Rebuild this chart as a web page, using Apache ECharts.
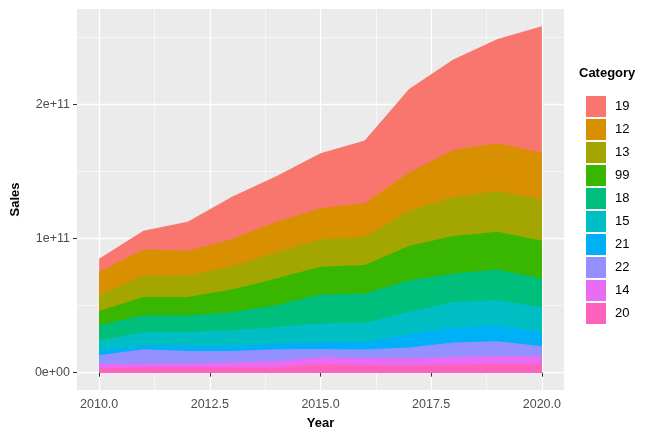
<!DOCTYPE html>
<html><head><meta charset="utf-8">
<script src="https://cdn.jsdelivr.net/npm/echarts@6/dist/echarts.min.js"></script>
</head>
<body style="margin:0;background:#fff">
<div id="c" style="width:645px;height:439px"></div>
<script>
// ---- data (sales in billions) ----
const years = [2010, 2011, 2012, 2013, 2014, 2015, 2016, 2017, 2018, 2019, 2020];
const stackOrder = ['20', '14', '22', '21', '15', '18', '99', '13', '12', '19']; // bottom -> top
const legendOrder = ['19', '12', '13', '99', '18', '15', '21', '22', '14', '20'];
const sales20 = [3.4, 4.0, 4.0, 4.0, 4.2, 6.7, 5.7, 5.4, 6.0, 6.7, 6.7];
const sales14 = [3.0, 2.7, 2.9, 3.5, 4.5, 4.7, 5.2, 5.5, 5.6, 5.7, 5.7];
const sales22 = [6.5, 10.7, 9.2, 8.6, 8.7, 6.2, 6.3, 7.8, 10.8, 11.0, 7.2];
const sales21 = [3.7, 3.0, 3.8, 3.8, 4.2, 5.2, 5.6, 9.7, 11.2, 11.7, 10.7];
const sales15 = [7.0, 9.9, 10.4, 11.7, 12.4, 13.8, 14.2, 16.8, 19.1, 18.9, 18.2];
const sales18 = [11.7, 12.5, 12.5, 13.6, 16.2, 21.8, 22.0, 23.7, 21.2, 22.9, 21.6];
const sales99 = [10.7, 13.6, 13.6, 16.7, 19.9, 20.4, 21.1, 25.4, 27.8, 28.0, 28.1];
const sales13 = [11.9, 15.7, 16.0, 17.4, 19.5, 20.5, 21.1, 26.3, 28.9, 30.4, 30.9];
const sales12 = [17.2, 19.7, 18.3, 20.0, 22.8, 23.1, 24.9, 28.4, 35.3, 35.6, 34.8];
const sales19 = [9.7, 13.9, 21.7, 31.7, 33.9, 41.0, 46.7, 62.2, 67.2, 77.6, 94.0];
const xTicks = [2010, 2012.5, 2015, 2017.5, 2020];
const xMinor = [2011.25, 2013.75, 2016.25, 2018.75];
const yTicks = [0, 1e11, 2e11];
const yTickLabels = ['0e+00', '1e+11', '2e+11'];
const yMinor = [0.5e11, 1.5e11, 2.5e11];

const salesByCat = { '20': sales20, '14': sales14, '22': sales22, '21': sales21, '15': sales15,
  '18': sales18, '99': sales99, '13': sales13, '12': sales12, '19': sales19 };
const colors = { '19': '#F8766D', '12': '#D89000', '13': '#A3A500', '99': '#39B600', '18': '#00BF7D',
  '15': '#00BFC4', '21': '#00B0F6', '22': '#9590FF', '14': '#E76BF3', '20': '#FF62BC' };

// stack: cumulative top of each layer (bottom -> top)
const cumulative = {};
let running = years.map(() => 0);
stackOrder.forEach(cat => {
  running = running.map((v, i) => v + salesByCat[cat][i] * 1e9);
  cumulative[cat] = running.slice();
});
const yMaxData = Math.max(...running);
const yMin = -0.05 * yMaxData, yMax = 1.05 * yMaxData;

// draw top layer first, each filled down to zero, so lower layers paint over
const series = stackOrder.slice().reverse().map(cat => ({
  name: cat, type: 'line',
  symbol: 'none',
  lineStyle: { width: 0, color: colors[cat] },
  itemStyle: { color: colors[cat] },
  areaStyle: { color: colors[cat], opacity: 1 },
  data: years.map((y, i) => [y, cumulative[cat][i]])
}));

const chart = echarts.init(document.getElementById('c'), null, { renderer: 'canvas' });
const font = 'Liberation Sans, Arial, sans-serif';
const nameStyle = { fontWeight: 'bold', fontSize: 13, color: '#000', fontFamily: font };
const tickStyle = { show: true, length: 4, lineStyle: { color: '#333333', width: 1 } };
chart.setOption({
  animation: false,
  textStyle: { fontFamily: font },
  grid: { left: 77, right: 81, top: 9, bottom: 49, show: true, backgroundColor: '#EBEBEB', borderWidth: 0 },
  xAxis: [{
    type: 'value', min: 2009.5, max: 2020.5,
    name: 'Year', nameLocation: 'middle', nameGap: 27, nameTextStyle: nameStyle,
    axisLine: { show: false },
    axisTick: Object.assign({ customValues: xTicks }, tickStyle),
    axisLabel: { customValues: xTicks, margin: 8, fontSize: 12.5, color: '#4D4D4D', fontFamily: font,
      formatter: v => Number(v).toFixed(1) },
    splitLine: { show: true, lineStyle: { color: '#FFFFFF', width: 1.3 } }
  }, {
    type: 'value', min: 2009.5, max: 2020.5, position: 'bottom',
    axisLine: { show: false },
    axisTick: { show: false, customValues: xMinor },
    axisLabel: { show: false, customValues: xMinor },
    splitLine: { show: true, lineStyle: { color: '#FFFFFF', width: 0.6 } }
  }],
  yAxis: [{
    type: 'value', min: yMin, max: yMax,
    name: 'Sales', nameLocation: 'middle', nameGap: 55, nameTextStyle: nameStyle,
    axisLine: { show: false },
    axisTick: Object.assign({ customValues: yTicks }, tickStyle),
    axisLabel: { customValues: yTicks, margin: 7, fontSize: 12.5, color: '#4D4D4D', fontFamily: font,
      formatter: v => yTickLabels[yTicks.indexOf(v)] },
    splitLine: { show: true, lineStyle: { color: '#FFFFFF', width: 1.3 } }
  }, {
    type: 'value', min: yMin, max: yMax, position: 'left',
    axisLine: { show: false },
    axisTick: { show: false, customValues: yMinor },
    axisLabel: { show: false, customValues: yMinor },
    splitLine: { show: true, lineStyle: { color: '#FFFFFF', width: 0.6 } }
  }],
  legend: {
    orient: 'vertical', left: 586, top: 96, padding: 0,
    data: legendOrder, icon: 'rect', itemWidth: 20, itemHeight: 21, itemGap: 2,
    textStyle: { fontSize: 13, color: '#000', fontFamily: font, padding: [0, 0, 0, 4] },
    selectedMode: false
  },
  graphic: [{
    type: 'text', left: 579, top: 67,
    style: { text: 'Category', font: 'bold 13px ' + font, fill: '#000' }
  }],
  series: series
});
</script>
</body></html>
